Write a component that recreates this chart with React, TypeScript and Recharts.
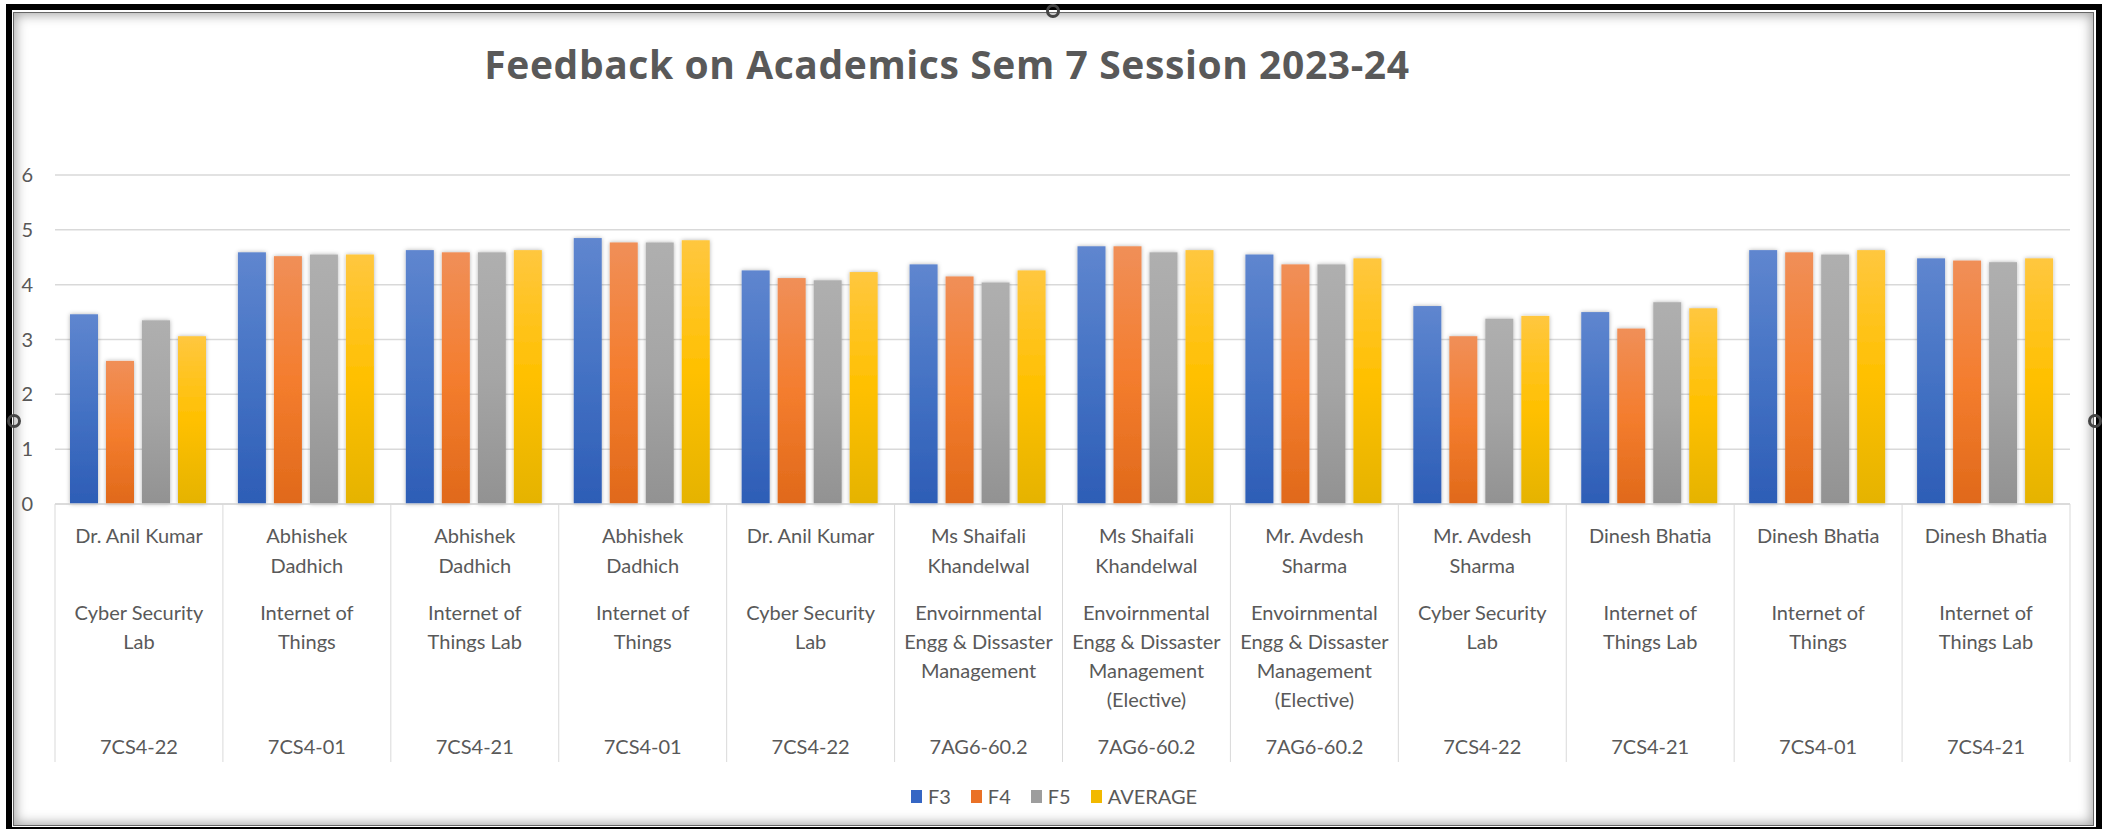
import React from 'react';
import { BarChart, Bar, XAxis, YAxis, CartesianGrid, Legend } from 'recharts';

// teacher name lines, subject lines and course codes for each category
const teachers = [
  ['Dr. Anil Kumar'],
  ['Abhishek', 'Dadhich'],
  ['Abhishek', 'Dadhich'],
  ['Abhishek', 'Dadhich'],
  ['Dr. Anil Kumar'],
  ['Ms Shaifali', 'Khandelwal'],
  ['Ms Shaifali', 'Khandelwal'],
  ['Mr. Avdesh', 'Sharma'],
  ['Mr. Avdesh', 'Sharma'],
  ['Dinesh Bhatia'],
  ['Dinesh Bhatia'],
  ['Dinesh Bhatia'],
];

const subjects = [
  ['Cyber Security', 'Lab'],
  ['Internet of', 'Things'],
  ['Internet of', 'Things Lab'],
  ['Internet of', 'Things'],
  ['Cyber Security', 'Lab'],
  ['Envoirnmental', 'Engg & Dissaster', 'Management'],
  ['Envoirnmental', 'Engg & Dissaster', 'Management', '(Elective)'],
  ['Envoirnmental', 'Engg & Dissaster', 'Management', '(Elective)'],
  ['Cyber Security', 'Lab'],
  ['Internet of', 'Things Lab'],
  ['Internet of', 'Things'],
  ['Internet of', 'Things Lab'],
];

const codes = [
  '7CS4-22', '7CS4-01', '7CS4-21', '7CS4-01', '7CS4-22', '7AG6-60.2',
  '7AG6-60.2', '7AG6-60.2', '7CS4-22', '7CS4-21', '7CS4-01', '7CS4-21',
];

const f3 = [3.46, 4.59, 4.63, 4.85, 4.26, 4.37, 4.70, 4.55, 3.61, 3.50, 4.63, 4.48];
const f4 = [2.61, 4.52, 4.59, 4.77, 4.12, 4.15, 4.70, 4.37, 3.06, 3.20, 4.59, 4.44];
const f5 = [3.35, 4.55, 4.59, 4.77, 4.08, 4.04, 4.59, 4.37, 3.38, 3.68, 4.55, 4.41];
const average = [3.06, 4.55, 4.63, 4.81, 4.23, 4.26, 4.63, 4.48, 3.43, 3.57, 4.63, 4.48];

const yTicks = [0, 1, 2, 3, 4, 5, 6];

const SERIES = [
  { key: 'F3', values: f3, light: '#5f86cf', base: '#4472c4', dark: '#2d5db6', legend: '#3566c4' },
  { key: 'F4', values: f4, light: '#f08f58', base: '#f47d2e', dark: '#e0691a', legend: '#ea7126' },
  { key: 'F5', values: f5, light: '#afafaf', base: '#a5a5a5', dark: '#929292', legend: '#9d9d9d' },
  { key: 'AVERAGE', values: average, light: '#ffc73f', base: '#ffc000', dark: '#e5b300', legend: '#f2b900' },
];

const data = codes.map((code, i) => {
  const row: Record<string, any> = { id: i, code };
  SERIES.forEach(s => { row[s.key] = s.values[i]; });
  return row;
});

const W = 2108;
const H = 829;
const M_LEFT = 0;
const M_RIGHT = 38;
const Y_AXIS_W = 55;
const BAND = (W - M_LEFT - M_RIGHT - Y_AXIS_W) / codes.length;
const TEXT = '#595959';
const FONT = 'Lato, sans-serif';

const CategoryTick = (props: any) => {
  const { x, y, payload } = props;
  const i = payload.index;
  const left = x - BAND / 2;
  const right = x + BAND / 2;
  return (
    <g>
      <line x1={left} x2={left} y1={y} y2={y + 258} stroke="#d9d9d9" strokeWidth={1} />
      {i === codes.length - 1 && (
        <line x1={right} x2={right} y1={y} y2={y + 258} stroke="#d9d9d9" strokeWidth={1} />
      )}
      <g fill={TEXT} fontSize={20} fontFamily={FONT} textAnchor="middle">
        {teachers[i].map((t, k) => (
          <text key={'t' + k} x={x} y={y + 31 + k * 30} dominantBaseline="central">{t}</text>
        ))}
        {subjects[i].map((t, k) => (
          <text key={'s' + k} x={x} y={y + 108 + k * 29} dominantBaseline="central">{t}</text>
        ))}
        <text x={x} y={y + 242} dominantBaseline="central">{codes[i]}</text>
      </g>
    </g>
  );
};

const LegendContent = () => (
  <div style={{ display: 'flex', justifyContent: 'center', alignItems: 'center', fontFamily: FONT, fontSize: 20, color: TEXT }}>
    {SERIES.map((s, i) => (
      <div key={s.key} style={{ display: 'flex', alignItems: 'center', marginRight: i === SERIES.length - 1 ? 0 : 20 }}>
        <span style={{ display: 'inline-block', width: 11, height: 13, background: s.legend, marginRight: 6 }} />
        <span>{s.key}</span>
      </div>
    ))}
  </div>
);

const makeShape = (id: string) => (p: any) => (
  <rect x={p.x} y={p.y} width={p.width} height={p.height} fill={`url(#grad-${id})`} filter="url(#barShadow)" />
);

const handle = (style: React.CSSProperties) => (
  <div style={{ position: 'absolute', width: 14, height: 14, borderRadius: '50%', border: '3px solid #444', boxSizing: 'border-box', ...style }} />
);

export default function App() {
  return (
    <div style={{ position: 'absolute', left: 0, top: 0, width: W, height: H, background: '#fff', overflow: 'hidden' }}>
      <div style={{ position: 'absolute', left: 0, top: 0 }}>
        <BarChart
          width={W}
          height={H}
          data={data}
          margin={{ top: 175, right: M_RIGHT, left: M_LEFT, bottom: 65 }}
          barCategoryGap={15}
          barGap={8}
        >
          <defs>
            {SERIES.map(s => (
              <linearGradient key={s.key} id={`grad-${s.key}`} x1="0" y1="0" x2="0" y2="1">
                <stop offset="0%" stopColor={s.light} />
                <stop offset="50%" stopColor={s.base} />
                <stop offset="100%" stopColor={s.dark} />
              </linearGradient>
            ))}
            <filter id="barShadow" x="-30%" y="-10%" width="160%" height="120%">
              <feDropShadow dx="0" dy="0" stdDeviation="2" floodColor="#000" floodOpacity="0.3" />
            </filter>
          </defs>
          <CartesianGrid vertical={false} stroke="#d9d9d9" strokeWidth={1.5} />
          <XAxis
            dataKey="id"
            height={260}
            interval={0}
            tickSize={0}
            tickMargin={0}
            axisLine={{ stroke: '#d9d9d9', strokeWidth: 1.5 }}
            tickLine={false}
            tick={<CategoryTick />}
          />
          <YAxis
            width={Y_AXIS_W}
            domain={[0, 6]}
            ticks={yTicks}
            axisLine={false}
            tickLine={false}
            tickSize={0}
            tickMargin={22}
            tick={{ fill: TEXT, fontSize: 20, fontFamily: FONT }}
          />
          {SERIES.map(s => (
            <Bar key={s.key} dataKey={s.key} fill={s.base} isAnimationActive={false} shape={makeShape(s.key)} />
          ))}
          <Legend
            layout="horizontal"
            verticalAlign="middle"
            align="center"
            wrapperStyle={{ top: 784, left: 0, width: W }}
            content={<LegendContent />}
          />
        </BarChart>
      </div>

      <div
        style={{
          position: 'absolute', left: 0, top: 38, width: 1894, height: 52, lineHeight: '52px',
          textAlign: 'center', fontFamily: '"Open Sans", sans-serif', fontWeight: 700, fontSize: 39,
          letterSpacing: 0.6, color: TEXT,
        }}
      >
        Feedback on Academics Sem 7 Session 2023-24
      </div>

      {/* picture frame */}
      <div style={{ position: 'absolute', left: 6, top: 4, width: 2096, height: 829, border: '6px solid #000', boxSizing: 'border-box', pointerEvents: 'none' }} />
      <div style={{ position: 'absolute', left: 13, top: 12, width: 2081, height: 814, border: '1.5px solid #666', boxSizing: 'border-box', boxShadow: 'inset 0 0 12px 2px rgba(0,0,0,0.35)', pointerEvents: 'none' }} />
      {handle({ left: 1046, top: 4 })}
      {handle({ left: 7, top: 414 })}
      {handle({ left: 2088, top: 414 })}
    </div>
  );
}
